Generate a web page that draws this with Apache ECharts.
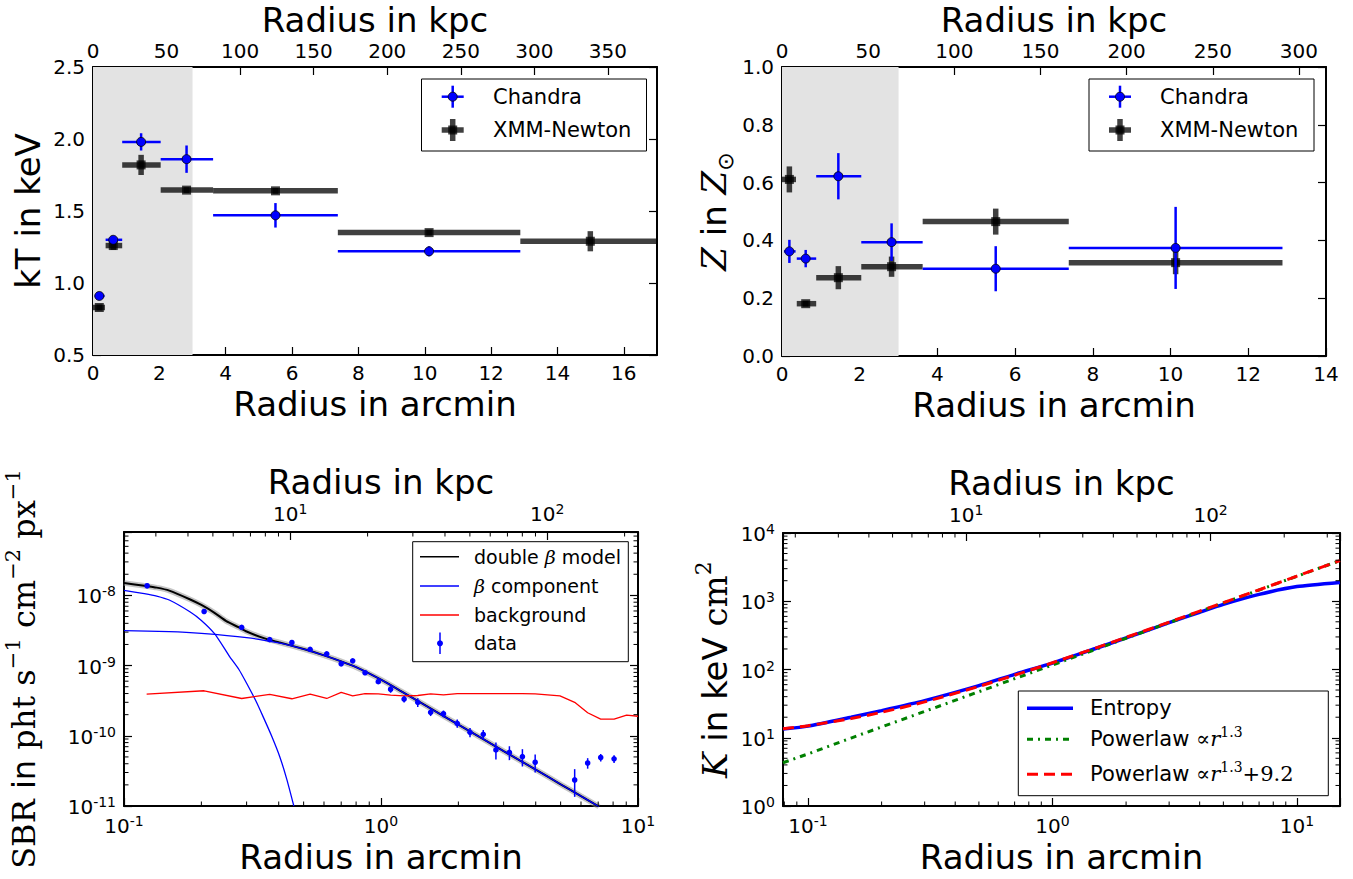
<!DOCTYPE html>
<html>
<head>
<meta charset="utf-8">
<script src="https://cdn.jsdelivr.net/npm/echarts@6/dist/echarts.min.js"></script>
<style>
  html, body { margin: 0; padding: 0; background: #fff; }
  #chart { width: 1353px; height: 879px; }
</style>
</head>
<body>
<div id="chart"></div>
<script>
// ---------- conversion between angular and physical radius ----------
const KPC_PER_ARCMIN = 22.55;

// ---------- temperature / abundance profiles (annuli in arcmin) ----------
const chandraR     = [0.19, 0.61, 1.45, 2.82, 5.50, 10.13];
const chandraBinLo = [0.05, 0.38, 0.88, 2.04, 3.62, 7.38];
const chandraBinHi = [0.35, 0.88, 2.04, 3.62, 7.38, 12.88];
const chandraKT    = [0.91, 1.30, 1.98, 1.86, 1.47, 1.22];
const chandraKTErr = [0.02, 0.02, 0.06, 0.095, 0.085, 0.035];
const chandraZ     = [0.362, 0.337, 0.622, 0.394, 0.302, 0.374];
const chandraZErr  = [0.04, 0.03, 0.08, 0.065, 0.078, 0.142];

const xmmR     = [0.19, 0.61, 1.45, 2.82, 5.50, 10.13, 14.99];
const xmmBinLo = [0.0, 0.38, 0.88, 2.04, 3.62, 7.38, 12.88];
const xmmBinHi = [0.36, 0.88, 2.04, 3.62, 7.38, 12.88, 17.1];
const xmmKT    = [0.83, 1.26, 1.82, 1.645, 1.64, 1.35, 1.29];
const xmmKTErr = [0.02, 0.03, 0.07, 0.02, 0.02, 0.02, 0.07];
const xmmZ     = [0.611, 0.181, 0.271, 0.309, 0.465, 0.323];
const xmmZErr  = [0.045, 0.01, 0.04, 0.035, 0.045, 0.04];

// inner region excluded from the fits (arcmin)
const innerRegion = [0, 3];

// ---------- surface brightness profile ----------
const sbrR   = [0.123, 0.205, 0.287, 0.369, 0.45, 0.53, 0.615, 0.70, 0.776, 0.867, 0.976,
                1.09, 1.23, 1.39, 1.56, 1.75, 1.98, 2.22, 2.50, 2.80, 3.16, 3.55, 3.98,
                5.67, 6.37, 7.16, 8.07];
const sbrVal = [1.37e-8, 5.9e-9, 3.5e-9, 2.34e-9, 2.13e-9, 1.7e-9, 1.47e-9, 1.06e-9, 1.17e-9, 7.9e-10, 5.9e-10,
                4.6e-10, 3.33e-10, 3.0e-10, 2.16e-10, 2.06e-10, 1.5e-10, 1.12e-10, 1.05e-10, 6.3e-11, 5.8e-11, 5.05e-11, 4.2e-11,
                2.35e-11, 4.1e-11, 4.9e-11, 4.7e-11];
const sbrErr = [4e-10, 2e-10, 1.2e-10, 8e-11, 7e-11, 6e-11, 5e-11, 4e-11, 4e-11, 3e-11, 3e-11,
                5e-11, 3.5e-11, 4.2e-11, 2.5e-11, 2.3e-11, 2e-11, 1.7e-11, 1.6e-11, 1.7e-11, 1.3e-11, 1.4e-11, 1.2e-11,
                1.0e-11, 7e-12, 6e-12, 6e-12];

const modelR = [0.1, 0.12, 0.134, 0.15, 0.181, 0.2, 0.225, 0.25, 0.28, 0.3, 0.35, 0.4, 0.5, 0.6, 0.7, 0.8,
                1.0, 1.2, 1.5, 2, 2.5, 3, 4, 5, 6, 7.05];
const modelDoubleBeta = [1.5e-8, 1.37e-8, 1.29e-8, 1.17e-8, 8.75e-9, 7.3e-9, 5.65e-9, 4.3e-9, 3.5e-9, 3.06e-9,
                2.46e-9, 2.15e-9, 1.72e-9, 1.4e-9, 1.15e-9, 9.5e-10, 6.3e-10, 4.3e-10, 2.66e-10, 1.44e-10,
                8.95e-11, 6.06e-11, 3.3e-11, 2.04e-11, 1.38e-11, 9.8e-12];

const coreR = [0.1, 0.12, 0.134, 0.15, 0.181, 0.2, 0.225, 0.25, 0.258, 0.28, 0.30, 0.325, 0.348, 0.375, 0.404, 0.43, 0.458];
const coreBeta = [1.18e-8, 1.06e-8, 9.8e-9, 8.6e-9, 5.8e-9, 4.4e-9, 2.85e-9, 1.6e-9, 1.33e-9, 8.8e-10, 5.6e-10,
                  3.2e-10, 1.86e-10, 1.0e-10, 5e-11, 2.4e-11, 1e-11];

const extR = [0.1, 0.15, 0.2, 0.3, 0.4, 0.5, 0.6, 0.7, 0.8, 1.0, 1.2, 1.5, 2, 2.5, 3, 4, 5, 6, 7.05];
const extBeta = [3.15e-9, 3.05e-9, 2.88e-9, 2.5e-9, 2.1e-9, 1.72e-9, 1.4e-9, 1.15e-9, 9.5e-10, 6.3e-10, 4.3e-10,
                 2.66e-10, 1.44e-10, 8.95e-11, 6.06e-11, 3.3e-11, 2.04e-11, 1.38e-11, 9.8e-12];

const bgR = [0.1225, 0.205, 0.287, 0.369, 0.45, 0.53, 0.615, 0.70, 0.776, 0.867, 0.976, 1.09, 1.23, 1.39,
             1.56, 1.75, 1.98, 2.22, 2.50, 2.80, 3.16, 3.55, 3.98, 4.97, 5.67, 6.37, 7.16, 8.07, 9.03, 10.0];
const background = [3.93e-10, 4.38e-10, 3.4e-10, 3.89e-10, 3.37e-10, 3.93e-10, 3.4e-10, 4.15e-10, 3.7e-10, 3.98e-10,
             3.95e-10, 3.8e-10, 3.7e-10, 3.75e-10, 3.95e-10, 3.83e-10, 3.98e-10, 3.98e-10, 3.98e-10, 4.0e-10,
             4.0e-10, 3.98e-10, 3.95e-10, 3.7e-10, 3.0e-10, 2.13e-10, 1.73e-10, 1.73e-10, 1.97e-10, 1.9e-10];

// ---------- entropy profile ----------
const entR    = [0.079, 0.1, 0.15, 0.2, 0.3, 0.5, 0.7, 1.0, 1.5, 2, 3, 4, 5, 7, 10, 15];
const entropy = [13.4, 14.8, 20, 25, 35, 58, 85, 124, 203, 290, 485, 690, 900, 1260, 1640, 1890];
const plR     = [0.079, 0.1, 0.15, 0.2, 0.3, 0.5, 0.7, 1, 1.5, 2, 3, 5, 7, 10, 15];
const powerlaw       = [4.3, 5.8, 9.9, 14.4, 24.3, 47.3, 73.3, 116.5, 197, 287, 486, 944, 1462, 2324, 3938];
const powerlawOffset = [13.5, 15.0, 19.1, 23.6, 33.5, 56.5, 82.5, 125.7, 206, 296, 495, 953, 1471, 2333, 3947];

// ---------- axis ranges ----------
const ktXRange  = [0, 17],  ktYRange  = [0.5, 2.5];
const zXRange   = [0, 14],  zYRange   = [0, 1];
const sbrXRange = [0.1, 10], sbrYRange = [1e-11, 8e-8];
const entXRange = [0.079, 15], entYRange = [1, 1e4];

// ---------- helpers ----------
const FONT = 'DejaVu Sans';
const SERIF = 'DejaVu Serif';
const zip = (...cols) => cols[0].map((_, i) => cols.map(c => c[i]));

function decadeSteps(lo, hi) {
  // 2..9 x 10^n positions strictly inside (lo, hi)
  const out = [];
  for (let e = Math.floor(Math.log10(lo)); e <= Math.ceil(Math.log10(hi)); e++) {
    for (let m = 2; m <= 9; m++) {
      const v = m * Math.pow(10, e);
      if (v > lo * 1.0001 && v < hi * 0.9999) out.push(v);
    }
  }
  return out;
}

function powLabel(v) {
  const l = Math.log10(v), e = Math.round(l);
  if (Math.abs(l - e) > 1e-6) return '';
  return '{b|10}{s|' + e + '}';
}
const powRich = {
  b: { fontSize: 20, fontFamily: FONT, color: '#000', lineHeight: 22, verticalAlign: 'bottom' },
  s: { fontSize: 14, fontFamily: FONT, color: '#000', lineHeight: 14, verticalAlign: 'top' }
};

const titleStyle = { fontSize: 34, fontFamily: FONT, color: '#000', lineHeight: 34 };
const topTitleStyle = { fontSize: 34, fontFamily: FONT, color: '#000', lineHeight: 32 };

function baseAxis(o) {
  const a = {
    axisLine: { show: true, onZero: false, lineStyle: { color: '#000', width: 2 } },
    axisTick: { show: true, inside: true, length: 8, lineStyle: { color: '#000', width: 1.2 } },
    splitLine: { show: false },
    axisLabel: { show: true, color: '#000', fontSize: 20, fontFamily: FONT, margin: 8 },
    nameTextStyle: titleStyle
  };
  for (const k in o) {
    if (a[k] && typeof a[k] === 'object' && typeof o[k] === 'object' && !Array.isArray(o[k])) {
      a[k] = Object.assign({}, a[k], o[k]);
    } else a[k] = o[k];
  }
  return a;
}
const noLabel = { show: false };

function errorBarSeries(name, rows, xi, yi, kind) {
  const xmm = kind === 'xmm';
  return {
    name, type: 'custom', xAxisIndex: xi, yAxisIndex: yi, clip: true, z: xmm ? 3 : 4,
    data: rows,
    renderItem: function (params, api) {
      const x = api.value(0), y = api.value(1), e = api.value(4);
      const c = api.coord([x, y]);
      const l = api.coord([api.value(2), y]), r = api.coord([api.value(3), y]);
      const t = api.coord([x, y + e]), b = api.coord([x, y - e]);
      const col = xmm ? 'rgba(0,0,0,0.75)' : '#0000ff';
      const lw = xmm ? 5.5 : 2.5;
      const kids = [
        { type: 'line', shape: { x1: l[0], y1: l[1], x2: r[0], y2: r[1] }, style: { stroke: col, lineWidth: lw } },
        { type: 'line', shape: { x1: t[0], y1: t[1], x2: b[0], y2: b[1] }, style: { stroke: col, lineWidth: lw } }
      ];
      if (xmm) kids.push({ type: 'rect', shape: { x: c[0] - 4.5, y: c[1] - 4.5, width: 9, height: 9 }, style: { fill: 'rgba(0,0,0,0.75)' } });
      else kids.push({ type: 'circle', shape: { cx: c[0], cy: c[1], r: 4.5 }, style: { fill: '#0000ff', stroke: '#000', lineWidth: 0.8 } });
      return { type: 'group', children: kids };
    }
  };
}

function shadeSeries(xi, yi) {
  return {
    type: 'custom', xAxisIndex: xi, yAxisIndex: yi, silent: true, z: 1,
    data: [innerRegion],
    renderItem: function (params, api) {
      const cs = params.coordSys;
      const x0 = api.coord([api.value(0), 0.5])[0], x1 = api.coord([api.value(1), 0.5])[0];
      return { type: 'rect', shape: { x: x0, y: cs.y, width: x1 - x0, height: cs.height }, style: { fill: '#e3e3e3' } };
    }
  };
}

// minor ticks on a log axis; dir 'x' -> vertical marks on bottom/top edge, 'y' -> left and right edges
function minorTicks(xi, yi, values, dir, edge, ref) {
  return {
    type: 'custom', xAxisIndex: xi, yAxisIndex: yi, silent: true, clip: false, z: 6,
    data: values.map(v => dir === 'x' ? [v, ref] : [ref, v]),
    renderItem: function (params, api) {
      const cs = params.coordSys, len = 4.5;
      const p = api.coord([api.value(0), api.value(1)]);
      const st = { stroke: '#000', lineWidth: 1 };
      if (dir === 'x') {
        const yb = edge === 'top' ? cs.y : cs.y + cs.height;
        const sgn = edge === 'top' ? 1 : -1;
        return { type: 'line', shape: { x1: p[0], y1: yb, x2: p[0], y2: yb + sgn * len }, style: st };
      }
      return { type: 'group', children: [
        { type: 'line', shape: { x1: cs.x, y1: p[1], x2: cs.x + len, y2: p[1] }, style: st },
        { type: 'line', shape: { x1: cs.x + cs.width, y1: p[1], x2: cs.x + cs.width - len, y2: p[1] }, style: st }
      ] };
    }
  };
}

function line(name, xs, ys, xi, yi, color, width, type, z) {
  return {
    name, type: 'line', xAxisIndex: xi, yAxisIndex: yi, data: zip(xs, ys),
    showSymbol: false, symbol: 'none', smooth: 0.2, z: z || 2, silent: true,
    lineStyle: { color, width, type: type || 'solid' }
  };
}

// ---------- legend drawing helpers ----------
function box(x, y, w, h) {
  return { type: 'rect', z: 100, shape: { x, y, width: w, height: h }, style: { fill: '#fff', stroke: '#000', lineWidth: 1 } };
}
function seg(x1, y1, x2, y2, stroke, lw, dash) {
  const s = { stroke, lineWidth: lw };
  if (dash) s.lineDash = dash;
  return { type: 'line', z: 101, shape: { x1, y1, x2, y2 }, style: s };
}
function label(x, y, text, size, rich) {
  return {
    type: 'text', z: 102, x, y,
    style: { text, fontSize: size, fontFamily: FONT, fill: '#000', textAlign: 'left', align: 'left',
             textVerticalAlign: 'middle', verticalAlign: 'middle', rich: rich || undefined }
  };
}
function chandraIcon(cx, cy) {
  return [
    seg(cx - 11, cy, cx + 11, cy, '#0000ff', 2.5),
    seg(cx, cy - 11, cx, cy + 11, '#0000ff', 2.5),
    { type: 'circle', z: 102, shape: { cx, cy, r: 4.5 }, style: { fill: '#0000ff', stroke: '#000', lineWidth: 0.8 } }
  ];
}
function xmmIcon(cx, cy) {
  return [
    seg(cx - 11, cy, cx + 11, cy, 'rgba(0,0,0,0.75)', 5.5),
    seg(cx, cy - 11, cx, cy + 11, 'rgba(0,0,0,0.75)', 5.5),
    { type: 'rect', z: 102, shape: { x: cx - 4.5, y: cy - 4.5, width: 9, height: 9 }, style: { fill: 'rgba(0,0,0,0.75)' } }
  ];
}
const mathRich = (size) => ({
  i: { fontFamily: SERIF, fontStyle: 'italic', fontSize: size, fill: '#000', color: '#000', lineHeight: 28, verticalAlign: 'middle' },
  r: { fontFamily: SERIF, fontSize: size, fill: '#000', color: '#000', lineHeight: 28, verticalAlign: 'middle' },
  s: { fontFamily: SERIF, fontSize: Math.round(size * 0.68), fill: '#000', color: '#000', lineHeight: 14, verticalAlign: 'top' }
});

const legendGraphics = [
  // temperature panel
  box(421.5, 79, 225, 72),
  ...chandraIcon(452.7, 96.7), label(493, 97, 'Chandra', 21),
  ...xmmIcon(452.7, 130), label(493, 130, 'XMM-Newton', 21),
  // abundance panel
  box(1089, 79, 225, 72),
  ...chandraIcon(1120, 96.7), label(1160, 97, 'Chandra', 21),
  ...xmmIcon(1120, 130), label(1160, 130, 'XMM-Newton', 21),
  // surface brightness panel
  box(412.7, 541.7, 215.6, 120),
  seg(420, 556.7, 459, 556.7, '#000', 1.5), label(474, 556.7, 'double {i|β} model', 19, mathRich(19)),
  seg(420, 586, 459, 586, '#0000ff', 1.3), label(474, 586, '{i|β} component', 19, mathRich(19)),
  seg(420, 615, 459, 615, '#ff0000', 1.3), label(474, 615, 'background', 19),
  seg(440, 632.5, 440, 654, '#0000ff', 1.5),
  { type: 'circle', z: 102, shape: { cx: 440, cy: 643.3, r: 3 }, style: { fill: '#0000ff' } },
  label(474, 643.3, 'data', 19),
  // entropy panel
  box(1018.3, 691, 310, 104.7),
  seg(1027, 708.3, 1073, 708.3, '#0000ff', 3.5), label(1090, 708.3, 'Entropy', 21),
  seg(1027, 739.3, 1073, 739.3, '#008000', 3, [6, 5, 2, 5]), label(1090, 739.3, 'Powerlaw {r|∝}{i|r}{s|1.3}', 21, mathRich(21)),
  seg(1027, 774.3, 1073, 774.3, '#ff0000', 3, [11, 6]), label(1090, 774.3, 'Powerlaw {r|∝}{i|r}{s|1.3}{r|+9.2}', 21, mathRich(21))
];

// ---------- option ----------
const K = KPC_PER_ARCMIN;
const topLabel = { showMaxLabel: false, margin: 6 };
const option = {
  animation: false,
  backgroundColor: '#ffffff',
  textStyle: { fontFamily: FONT },
  grid: [
    { left: 93, top: 67, width: 564, height: 288 },
    { left: 782, top: 67, width: 544, height: 289 },
    { left: 124, top: 532, width: 514, height: 274 },
    { left: 783, top: 533, width: 557, height: 273 }
  ],
  xAxis: [
    baseAxis({ gridIndex: 0, type: 'value', position: 'bottom', min: ktXRange[0], max: ktXRange[1], interval: 2,
      name: 'Radius in arcmin', nameLocation: 'middle', nameGap: 32,
      axisLabel: { showMaxLabel: false } }),
    baseAxis({ gridIndex: 0, type: 'value', position: 'top', min: ktXRange[0] * K, max: ktXRange[1] * K, interval: 50,
      name: 'Radius in kpc', nameLocation: 'middle', nameGap: 31, nameTextStyle: topTitleStyle,
      axisLabel: topLabel }),
    baseAxis({ gridIndex: 1, type: 'value', position: 'bottom', min: zXRange[0], max: zXRange[1], interval: 2,
      name: 'Radius in arcmin', nameLocation: 'middle', nameGap: 32 }),
    baseAxis({ gridIndex: 1, type: 'value', position: 'top', min: zXRange[0] * K, max: zXRange[1] * K, interval: 50,
      name: 'Radius in kpc', nameLocation: 'middle', nameGap: 31, nameTextStyle: topTitleStyle,
      axisLabel: topLabel }),
    baseAxis({ gridIndex: 2, type: 'log', position: 'bottom', min: sbrXRange[0], max: sbrXRange[1],
      name: 'Radius in arcmin', nameLocation: 'middle', nameGap: 34,
      axisLabel: { formatter: powLabel, rich: powRich } }),
    baseAxis({ gridIndex: 2, type: 'log', position: 'top', min: sbrXRange[0] * K, max: sbrXRange[1] * K,
      name: 'Radius in kpc', nameLocation: 'middle', nameGap: 33,
      axisLabel: { formatter: powLabel, rich: powRich } }),
    baseAxis({ gridIndex: 3, type: 'log', position: 'bottom', min: entXRange[0], max: entXRange[1],
      name: 'Radius in arcmin', nameLocation: 'middle', nameGap: 34,
      axisLabel: { formatter: powLabel, rich: powRich } }),
    baseAxis({ gridIndex: 3, type: 'log', position: 'top', min: entXRange[0] * K, max: entXRange[1] * K,
      name: 'Radius in kpc', nameLocation: 'middle', nameGap: 33,
      axisLabel: { formatter: powLabel, rich: powRich } })
  ],
  yAxis: [
    baseAxis({ gridIndex: 0, type: 'value', position: 'left', min: ktYRange[0], max: ktYRange[1], interval: 0.5,
      name: 'kT in keV', nameLocation: 'middle', nameGap: 48,
      axisLabel: { formatter: v => v.toFixed(1) } }),
    baseAxis({ gridIndex: 0, type: 'value', position: 'right', min: ktYRange[0], max: ktYRange[1], interval: 0.5,
      axisLabel: noLabel }),
    baseAxis({ gridIndex: 1, type: 'value', position: 'left', min: zYRange[0], max: zYRange[1], interval: 0.2,
      name: '{i|Z} in {i|Z}{sub|⊙}', nameLocation: 'middle', nameGap: 46,
      nameTextStyle: { fontSize: 34, fontFamily: FONT, color: '#000', lineHeight: 44,
        rich: { i: { fontFamily: SERIF, fontStyle: 'italic', fontSize: 34, lineHeight: 44, verticalAlign: 'middle' },
                sub: { fontFamily: FONT, fontSize: 22, lineHeight: 22, verticalAlign: 'bottom' } } },
      axisLabel: { formatter: v => v.toFixed(1) } }),
    baseAxis({ gridIndex: 1, type: 'value', position: 'right', min: zYRange[0], max: zYRange[1], interval: 0.2,
      axisLabel: noLabel }),
    baseAxis({ gridIndex: 2, type: 'log', position: 'left', min: sbrYRange[0], max: sbrYRange[1],
      name: '{r|SBR} in {r|pht s}{s|−1}{r| cm}{s|−2}{r| px}{s|−1}', nameLocation: 'middle', nameGap: 78,
      nameTextStyle: { fontSize: 32, fontFamily: FONT, color: '#000', lineHeight: 44,
        rich: { r: { fontFamily: SERIF, fontSize: 32, lineHeight: 44, verticalAlign: 'middle' },
                s: { fontFamily: SERIF, fontSize: 21, lineHeight: 22, verticalAlign: 'top' } } },
      axisLabel: { formatter: powLabel, rich: powRich } }),
    baseAxis({ gridIndex: 2, type: 'log', position: 'right', min: sbrYRange[0], max: sbrYRange[1],
      axisLabel: noLabel }),
    baseAxis({ gridIndex: 3, type: 'log', position: 'left', min: entYRange[0], max: entYRange[1],
      name: '{i|K} in keV {r|cm}{s|2}', nameLocation: 'middle', nameGap: 44,
      nameTextStyle: { fontSize: 34, fontFamily: FONT, color: '#000', lineHeight: 44,
        rich: { i: { fontFamily: SERIF, fontStyle: 'italic', fontSize: 34, lineHeight: 44, verticalAlign: 'middle' },
                r: { fontFamily: SERIF, fontSize: 34, lineHeight: 44, verticalAlign: 'middle' },
                s: { fontFamily: SERIF, fontSize: 22, lineHeight: 22, verticalAlign: 'top' } } },
      axisLabel: { formatter: powLabel, rich: powRich } }),
    baseAxis({ gridIndex: 3, type: 'log', position: 'right', min: entYRange[0], max: entYRange[1],
      axisLabel: noLabel })
  ],
  series: [
    // temperature
    shadeSeries(0, 0),
    errorBarSeries('XMM-Newton', zip(xmmR, xmmKT, xmmBinLo, xmmBinHi, xmmKTErr), 0, 0, 'xmm'),
    errorBarSeries('Chandra', zip(chandraR, chandraKT, chandraBinLo, chandraBinHi, chandraKTErr), 0, 0, 'chandra'),
    // abundance
    shadeSeries(2, 2),
    errorBarSeries('XMM-Newton', zip(xmmR.slice(0, xmmZ.length), xmmZ, xmmBinLo, xmmBinHi, xmmZErr), 2, 2, 'xmm'),
    errorBarSeries('Chandra', zip(chandraR, chandraZ, chandraBinLo, chandraBinHi, chandraZErr), 2, 2, 'chandra'),
    // surface brightness
    Object.assign(line('model band', modelR, modelDoubleBeta, 4, 4, 'rgba(140,140,140,0.5)', 5.5), { z: 1 }),
    line('double β model', modelR, modelDoubleBeta, 4, 4, '#000000', 2, 'solid', 2),
    line('β component', coreR, coreBeta, 4, 4, '#0000ff', 1.3, 'solid', 3),
    line('β component (extended)', extR, extBeta, 4, 4, '#0000ff', 1.3, 'solid', 3),
    Object.assign(line('background', bgR, background, 4, 4, '#ff0000', 1.3, 'solid', 3), { smooth: false }),
    {
      name: 'data', type: 'custom', xAxisIndex: 4, yAxisIndex: 4, clip: true, z: 4,
      data: zip(sbrR, sbrVal, sbrErr),
      renderItem: function (params, api) {
        const x = api.value(0), y = api.value(1), e = api.value(2);
        const c = api.coord([x, y]), t = api.coord([x, y + e]), b = api.coord([x, y - e]);
        return { type: 'group', children: [
          { type: 'line', shape: { x1: t[0], y1: t[1], x2: b[0], y2: b[1] }, style: { stroke: '#0000ff', lineWidth: 1.5 } },
          { type: 'circle', shape: { cx: c[0], cy: c[1], r: 2.8 }, style: { fill: '#0000ff' } }
        ] };
      }
    },
    minorTicks(4, 4, decadeSteps(sbrXRange[0], sbrXRange[1]), 'x', 'bottom', 1e-10),
    minorTicks(5, 4, decadeSteps(sbrXRange[0] * K, sbrXRange[1] * K), 'x', 'top', 1e-10),
    minorTicks(4, 4, decadeSteps(sbrYRange[0], sbrYRange[1]), 'y', 'both', 1),
    // entropy
    line('Entropy', entR, entropy, 6, 6, '#0000ff', 3.5, 'solid', 2),
    Object.assign(line('Powerlaw ∝r^1.3', plR, powerlaw, 6, 6, '#008000', 3, [6, 5, 2, 5], 3), { smooth: false }),
    Object.assign(line('Powerlaw ∝r^1.3+9.2', plR, powerlawOffset, 6, 6, '#ff0000', 3, [11, 6], 4), { smooth: 0.2 }),
    minorTicks(6, 6, decadeSteps(entXRange[0], entXRange[1]), 'x', 'bottom', 10),
    minorTicks(7, 6, decadeSteps(entXRange[0] * K, entXRange[1] * K), 'x', 'top', 10),
    minorTicks(6, 6, decadeSteps(entYRange[0], entYRange[1]), 'y', 'both', 1)
  ],
  graphic: { elements: legendGraphics }
};

const chart = echarts.init(document.getElementById('chart'), null, { renderer: 'svg', width: 1353, height: 879 });
chart.setOption(option);
</script>
</body>
</html>
